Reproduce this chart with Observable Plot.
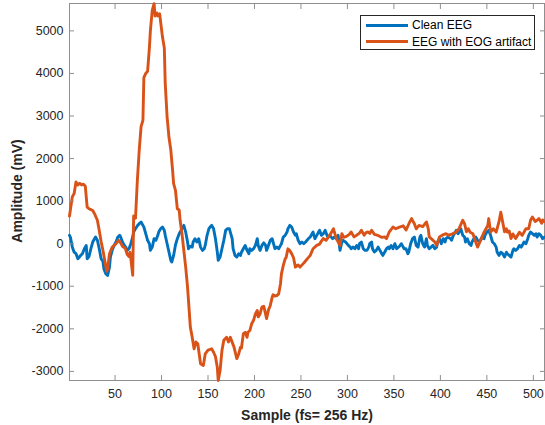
<!DOCTYPE html>
<html><head><meta charset="utf-8">
<script src="https://cdn.jsdelivr.net/npm/d3@7"></script>
<script src="https://cdn.jsdelivr.net/npm/@observablehq/plot@0.6"></script>
<style>
body{margin:0;background:#fff;}
#wrap{position:relative;width:545px;height:425px;font-family:"Liberation Sans",Arial,sans-serif;color:#262626;}
.lab{position:absolute;font-weight:bold;font-size:14px;white-space:nowrap;color:#262626;}
#ylab{left:17px;top:191px;transform:translate(-50%,-50%) rotate(-90deg);}
#xlab{left:307px;top:415px;transform:translate(-50%,-50%);}
#legend{position:absolute;left:360px;top:15px;width:175px;height:35px;border:1px solid #262626;background:#fff;box-sizing:border-box;font-size:12px;color:#000;}
.row{position:absolute;left:0;height:16px;display:flex;align-items:center;}
.sw{display:inline-block;width:42px;height:3px;margin-left:5px;margin-right:4px;}
</style></head>
<body>
<div id="wrap">
<div id="chart"></div>
<div id="legend"></div>
<div class="lab" id="ylab"></div>
<div class="lab" id="xlab"></div>
</div>
<script>
const seriesNames = ["Clean EEG", "EEG with EOG artifact"];
const seriesColors = ["#0072BD", "#D95319"];
const xTicks = [50,100,150,200,250,300,350,400,450,500];
const yTicks = [-3000,-2000,-1000,0,1000,2000,3000,4000,5000];
const xLabel = "Sample (fs= 256 Hz)";
const yLabel = "Amplitude (mV)";

// [sample, amplitude]
const clean = [[1,196],[2,150],[4,-80],[6,-200],[8,-235],[10,-353],[11,-330],[13,-275],[15,-230],[17,-118],[19,-40],[20,-353],[22,-300],[24,-118],[26,39],[29,157],[31,80],[33,-118],[35,-353],[37,-420],[38,-588],[40,-705],[42,-745],[44,-550],[45,-314],[47,-150],[49,-40],[51,39],[53,157],[55,200],[56,157],[58,39],[60,-40],[62,-100],[63,-157],[65,-118],[67,0],[69,157],[70,274],[72,353],[74,420],[76,470],[78,509],[80,430],[81,392],[83,235],[85,80],[87,0],[88,-157],[90,-80],[92,118],[94,80],[96,196],[97,274],[99,350],[101,392],[103,313],[104,196],[106,0],[108,-196],[110,-392],[111,-432],[113,-275],[115,-30],[117,118],[119,235],[122,353],[124,430],[126,274],[128,39],[129,-118],[131,-60],[133,-80],[134,40],[136,118],[138,40],[140,118],[142,-80],[144,-157],[146,-118],[147,-40],[149,196],[151,353],[153,410],[154,430],[156,353],[158,118],[160,-196],[161,-392],[163,-314],[165,-118],[167,78],[169,313],[171,353],[173,353],[174,274],[176,118],[177,-118],[179,-275],[181,-314],[183,-235],[185,-275],[186,-200],[188,-118],[190,-40],[192,-157],[194,-235],[195,-118],[197,-157],[199,-118],[201,-40],[203,118],[204,-40],[206,-157],[208,-40],[210,20],[212,-40],[213,-157],[215,-40],[217,78],[219,118],[221,-40],[222,-118],[224,-80],[226,-118],[228,-40],[229,0],[231,157],[233,196],[235,274],[236,353],[238,430],[240,392],[242,274],[244,196],[245,235],[247,80],[249,0],[251,39],[253,0],[255,39],[258,118],[260,157],[263,274],[265,118],[267,196],[269,274],[270,313],[272,196],[274,235],[276,313],[278,196],[279,157],[281,196],[284,118],[286,157],[288,118],[290,196],[292,-157],[294,40],[295,78],[298,40],[301,-40],[303,-80],[304,-118],[306,-80],[308,-118],[310,-40],[312,-118],[313,0],[315,39],[317,-118],[319,-157],[321,-157],[323,-80],[324,0],[326,39],[327,-118],[329,-196],[331,-157],[333,-80],[335,-157],[337,-235],[338,-275],[340,-200],[342,-118],[344,-80],[345,-118],[347,-40],[349,-118],[351,0],[353,-118],[356,-60],[358,0],[359,-40],[361,-118],[363,-118],[365,-235],[366,-196],[368,0],[370,118],[372,157],[374,-40],[376,-80],[378,157],[379,196],[381,0],[383,-80],[385,118],[386,-40],[388,-118],[390,-80],[392,-40],[394,-118],[396,-80],[397,39],[399,118],[401,0],[403,118],[405,40],[406,118],[408,157],[411,118],[412,80],[414,196],[415,235],[417,313],[419,235],[421,313],[422,350],[424,200],[426,157],[427,40],[429,118],[431,0],[433,-40],[434,40],[436,118],[438,157],[440,80],[442,40],[444,118],[445,157],[447,118],[448,196],[450,274],[452,313],[454,196],[456,40],[458,0],[460,-80],[461,-196],[463,-275],[465,-200],[467,-235],[469,-314],[471,-200],[472,-235],[474,-275],[476,-314],[478,-157],[479,-118],[481,-157],[483,-118],[485,-40],[487,-80],[489,0],[490,39],[492,0],[494,118],[495,196],[497,274],[499,235],[501,196],[503,235],[504,157],[506,235],[508,196],[510,118],[512,157]];

const artifact = [[1,650],[4,1100],[6,1180],[8,1450],[10,1380],[12,1420],[14,1380],[16,1400],[18,1350],[20,860],[22,820],[24,800],[26,780],[28,700],[31,550],[33,310],[35,50],[37,-160],[39,-400],[41,-650],[42,-600],[44,-240],[47,-80],[51,0],[54,80],[56,20],[58,-60],[61,-110],[63,-250],[65,-300],[66,-200],[67,-350],[69,-740],[70,650],[72,600],[74,1490],[76,2190],[78,2750],[80,2900],[81,3900],[83,4000],[85,4050],[87,4620],[88,5000],[90,5480],[92,5640],[93,5350],[95,5420],[96,5350],[98,5400],[101,4860],[103,4600],[104,3760],[106,2980],[108,2500],[110,2200],[112,1700],[113,1410],[115,1250],[117,820],[119,790],[120,550],[122,235],[124,-160],[126,-550],[128,-1020],[129,-1330],[131,-1960],[133,-2200],[135,-2470],[137,-2310],[139,-2350],[140,-2510],[142,-2820],[145,-2860],[147,-2590],[150,-2500],[154,-2470],[156,-2550],[158,-2650],[160,-2900],[161,-3214],[163,-2980],[165,-2510],[167,-2270],[170,-2200],[172,-2310],[174,-2200],[178,-2430],[181,-2700],[183,-2590],[185,-2430],[186,-2450],[188,-2120],[190,-2080],[192,-2200],[193,-2080],[195,-2040],[197,-1880],[199,-1800],[201,-1650],[203,-1570],[204,-1720],[206,-1650],[208,-1490],[210,-1470],[211,-1560],[213,-1760],[215,-1560],[217,-1450],[219,-1260],[220,-1200],[222,-1230],[224,-1220],[226,-1180],[228,-940],[229,-710],[231,-510],[233,-355],[234,-330],[236,-120],[238,-160],[240,-235],[242,-330],[244,-550],[247,-500],[249,-550],[252,-480],[254,-430],[257,-350],[260,-275],[263,-120],[267,-40],[270,-10],[272,60],[274,120],[277,80],[281,200],[285,350],[288,120],[292,-40],[294,235],[296,150],[299,170],[302,220],[304,275],[307,160],[310,200],[313,250],[315,315],[318,200],[320,260],[322,275],[324,240],[326,315],[329,220],[332,200],[334,180],[337,150],[340,160],[342,120],[345,275],[349,390],[352,350],[356,390],[360,420],[363,320],[367,510],[369,590],[372,470],[374,350],[377,430],[381,400],[385,510],[387,350],[388,160],[391,100],[394,40],[396,-40],[399,160],[402,200],[406,235],[409,200],[413,230],[417,275],[420,350],[424,550],[426,470],[428,280],[430,350],[432,270],[435,235],[438,40],[440,-80],[444,120],[447,270],[451,430],[452,590],[454,274],[457,350],[460,270],[463,510],[465,740],[467,510],[469,280],[471,350],[472,270],[474,300],[476,120],[478,230],[481,120],[485,270],[488,196],[492,350],[495,350],[497,550],[499,626],[502,520],[504,550],[506,590],[509,480],[510,560],[512,520]];

const axisGray = "#8f8f8f";
const fmt = d => String(d);
const chart = Plot.plot({
  width: 545, height: 425,
  marginLeft: 69, marginRight: 1, marginTop: 3, marginBottom: 45,
  style: {fontFamily: "'Liberation Sans', Arial, sans-serif", fontSize: "12.5px", color: "#262626", background: "white"},
  x: {domain: [1, 512]},
  y: {domain: [-3214, 5643]},
  marks: [
    Plot.frame({stroke: axisGray}),
    Plot.line(clean, {x: d => d[0], y: d => d[1], stroke: seriesColors[0], strokeWidth: 2.9, strokeLinejoin: "round"}),
    Plot.line(artifact, {x: d => d[0], y: d => d[1], stroke: seriesColors[1], strokeWidth: 2.9, strokeLinejoin: "round"}),
    Plot.axisX(xTicks, {anchor: "bottom", tickSize: -5, tickPadding: 14, stroke: axisGray, fill: "#262626", tickFormat: fmt, label: null}),
    Plot.axisX(xTicks, {anchor: "top", tickSize: -5, stroke: axisGray, tickFormat: () => "", label: null}),
    Plot.axisY(yTicks, {anchor: "left", tickSize: -5, tickPadding: 11, stroke: axisGray, fill: "#262626", tickFormat: fmt, label: null}),
    Plot.axisY(yTicks, {anchor: "right", tickSize: -5, stroke: axisGray, tickFormat: () => "", label: null})
  ]
});
document.getElementById("chart").appendChild(chart);
document.getElementById("xlab").textContent = xLabel;
document.getElementById("ylab").textContent = yLabel;
const leg = document.getElementById("legend");
seriesNames.forEach((name, i) => {
  const row = document.createElement("div");
  row.className = "row";
  row.style.top = (i === 0 ? 1 : 17.5) + "px";
  const sw = document.createElement("span");
  sw.className = "sw";
  sw.style.background = seriesColors[i];
  const t = document.createElement("span");
  t.textContent = name;
  row.appendChild(sw); row.appendChild(t);
  leg.appendChild(row);
});
</script>
</body></html>
